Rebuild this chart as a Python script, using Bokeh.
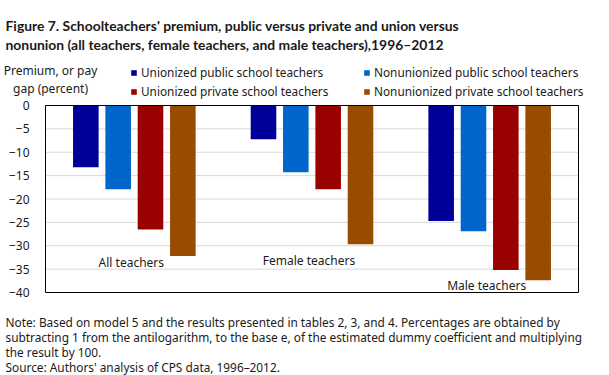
from bokeh.plotting import figure
from bokeh.models import Legend, LegendItem, Range1d, ColumnDataSource, Label
from bokeh.core.properties import value
from bokeh.embed import file_html
from bokeh.resources import INLINE

# ---------------- data ----------------
groups = ["All teachers", "Female teachers", "Male teachers"]
union_public = [-13.2, -7.2, -24.7]
nonunion_public = [-17.9, -14.3, -26.9]
union_private = [-26.5, -17.9, -35.2]
nonunion_private = [-32.2, -29.7, -37.4]
series_names = ["Unionized public school teachers", "Nonunionized public school teachers",
                "Unionized private school teachers", "Nonunionized private school teachers"]
label_y = [-33.5, -33.2, -38.5]
yticks = [0, -5, -10, -15, -20, -25, -30, -35, -40]

title_lines = ["Figure 7. Schoolteachers' premium, public versus private and union versus",
               "nonunion (all teachers, female teachers, and male teachers),1996\u20132012"]
ylabel_lines = ["Premium, or pay", "gap (percent)"]
note_lines = ["Note: Based on model 5 and the results presented in tables 2, 3, and 4. Percentages are obtained by",
              "subtracting 1 from the antilogarithm, to the base e, of the estimated dummy coefficient and multiplying",
              "the result by 100.",
              "Source: Authors' analysis of CPS data, 1996\u20132012."]

# ---------------- style / layout ----------------
colors = ["#000099", "#0066CC", "#990000", "#994C00"]
FONT = "Noto Sans"
TXT = "#1a1a1a"
W, H = 606, 375                     # canvas
PL, PR, PT, PB = 45, 578, 105, 292  # chart box in canvas pixels
ymin, ymax = min(yticks), max(yticks)
ng = len(groups)
xpx = (PR - PL) / ng
ypx = (PB - PT) / (ymax - ymin)
x_range = Range1d(-PL / xpx, ng + (W - PR) / xpx)
y_range = Range1d(ymin - (H - PB) / ypx, ymax + PT / ypx)

p = figure(x_range=x_range, y_range=y_range, frame_width=W, frame_height=H,
           min_border=0, title=None, x_axis_location=None,
           output_backend="svg", toolbar_location=None, tools="")
p.background_fill_color = "white"
p.border_fill_color = "white"
p.outline_line_color = None
p.grid.grid_line_color = None

# gridlines (limited to the chart box)
p.segment(x0=[0] * len(yticks), x1=[ng] * len(yticks), y0=yticks, y1=yticks,
          line_color="#D9D9D9", line_width=1)

# bars
gx = [i + 0.5 for i in range(ng)]
offsets = [-0.273, -0.091, 0.091, 0.273]
src = ColumnDataSource(dict(gx=gx, group=groups, s0=union_public, s1=nonunion_public,
                            s2=union_private, s3=nonunion_private, ly=label_y))
renderers = []
for key, col, off in zip(["s0", "s1", "s2", "s3"], colors, offsets):
    r = p.vbar(x=[g + off for g in gx], top=src.data[key], bottom=0, width=0.144,
               fill_color=col, line_color=None)
    renderers.append(r)

# chart box border
p.quad(left=[0], right=[ng], bottom=[ymin], top=[ymax], fill_color=None,
       line_color="black", line_width=1)

# group labels
p.text(x="gx", y="ly", text="group", source=src, x_offset=-3,
       text_align="center", text_baseline="middle", text_font=value(FONT),
       text_font_size="12px", text_color=TXT)

# y axis at the chart box's left edge
p.yaxis.fixed_location = 0
p.yaxis.ticker = yticks
p.yaxis.axis_line_color = None
p.yaxis.major_tick_line_color = None
p.yaxis.minor_tick_line_color = None
p.yaxis.major_label_standoff = 10
p.yaxis.major_label_text_font = FONT
p.yaxis.major_label_text_font_size = "12px"
p.yaxis.major_label_text_color = TXT


def label(text, sx, sy, size, font=FONT, bold=False, align="left", baseline="alphabetic"):
    p.add_layout(Label(x=sx, y=sy, x_units="screen", y_units="screen", text=text,
                       text_font=font, text_font_size=size,
                       text_font_style="bold" if bold else "normal",
                       text_color=TXT, text_align=align, text_baseline=baseline))


# positions below are canvas pixels measured from the top-left, converted to bottom-up
for t, top in zip(title_lines, [25, 44]):
    label(t, 5, H - top, "13.9px", font="Lato", bold=True)
for t, top in zip(ylabel_lines, [70, 88]):
    label(t, 50, H - top, "12px", align="center", baseline="middle")
for t, top in zip(note_lines, [321, 336.5, 351.5, 366]):
    label(t, 5, H - top, "11.85px")

# legend (two columns)
for c, left in enumerate([130, 363]):
    items = [LegendItem(label=series_names[c], renderers=[renderers[c]]),
             LegendItem(label=series_names[c + 2], renderers=[renderers[c + 2]])]
    lg = Legend(items=items, location=(left, H - 99), orientation="vertical",
                padding=0, margin=0, spacing=3, glyph_width=7, glyph_height=7,
                label_height=16, label_standoff=4, border_line_color=None,
                background_fill_alpha=0, label_text_font=FONT, label_text_font_size="11.8px",
                label_text_color=TXT, label_text_baseline="middle")
    p.add_layout(lg)

open("out.html", "w").write(file_html(p, INLINE))
